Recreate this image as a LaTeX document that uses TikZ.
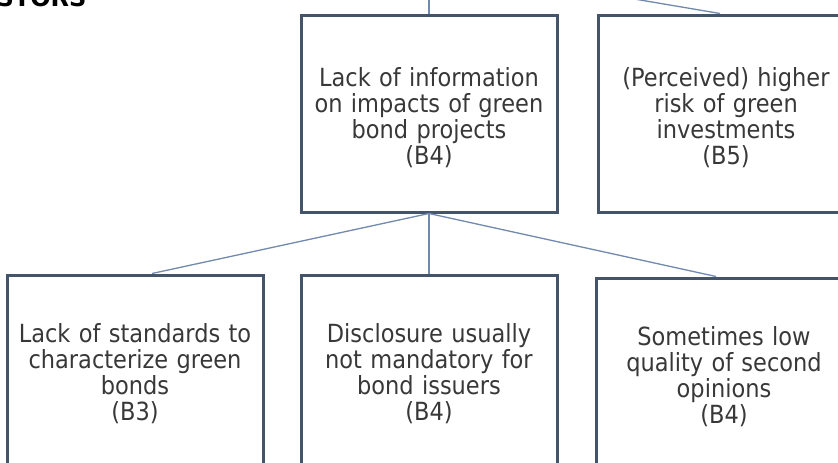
\documentclass[tikz,border=0pt]{standalone}
\usepackage{fontspec}
\setmainfont{DejaVu Sans Condensed}
\newfontfamily\headfont{DejaVu Sans}
\usetikzlibrary{positioning}
\definecolor{boxline}{HTML}{44546A}
\definecolor{linkline}{HTML}{7189AD}
\definecolor{boxtext}{HTML}{383838}

\begin{document}
\begin{tikzpicture}[x=1pt, y=-1pt, font=\fontsize{25}{26}\selectfont,
	barrier/.style={draw=boxline, line width=3pt, text=boxtext, align=center, text width=240pt, minimum width=256pt, minimum height=197pt, inner sep=0pt},
	upper/.style={barrier, execute at begin node=\rule{0pt}{27pt}},
	link/.style={draw=linkline, line width=1.3pt}]
	\useasboundingbox (0, 0) rectangle (838, 463);
	\node[font=\headfont\bfseries\fontsize{24}{24}\selectfont, anchor=base east] (hdr) at (90, 6) {STORS};
	\node[upper] (info) at (429, 113.5) {Lack of information\\on impacts of green\\bond projects\\(B4)};
	\node[upper, right=38pt of info] (risk) {(Perceived) higher\\risk of green\\investments\\(B5)};
	\node[barrier, below=60pt of info] (discl) {Disclosure usually\\not mandatory for\\bond issuers\\(B4)};
	\node[barrier, left=35pt of discl] (std) {Lack of standards to\\characterize green\\bonds\\(B3)};
	\node[barrier, right=36pt of discl, yshift=-3pt] (second) {Sometimes low\\quality of second\\opinions\\(B4)};

	\coordinate (up1) at (429, -30);
	\coordinate (up2) at (463, -30);
	\draw[link] (up1) -- (info.north);
	\draw[link] (up2) -- ([xshift=-6pt]risk.north);
	\draw[link] (info.south) -- ([xshift=17pt]std.north);
	\draw[link] (info.south) -- (discl.north);
	\draw[link] (info.south) -- ([xshift=-8pt]second.north);
\end{tikzpicture}
\end{document}
